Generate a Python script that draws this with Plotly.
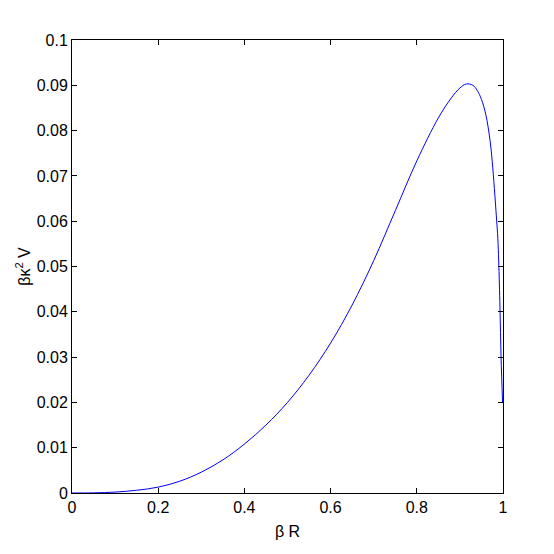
import plotly.graph_objects as go

# βR と βκ²V
beta_r = [0, 0.05, 0.1, 0.15, 0.2, 0.25, 0.3, 0.35, 0.4, 0.45, 0.5, 0.55,
          0.6, 0.65, 0.7, 0.75, 0.8, 0.85, 0.88, 0.9, 0.915, 0.93, 0.94,
          0.95, 0.96, 0.97, 0.975, 0.98, 0.985, 0.988, 0.99, 0.993, 0.9955,
          0.999]
beta_k2_v = [0, 0.00003, 0.0002, 0.0006, 0.0013, 0.0026, 0.0046, 0.0073,
             0.0108, 0.0150, 0.0200, 0.0260, 0.0331, 0.0415, 0.0513, 0.0623,
             0.0733, 0.0828, 0.0872, 0.0894, 0.0903, 0.0900, 0.0889, 0.0869,
             0.0836, 0.0778, 0.0732, 0.0672, 0.0605, 0.0562, 0.0512, 0.0410,
             0.0300, 0.0200]

x_ticks = [0, 0.2, 0.4, 0.6, 0.8, 1]
x_tick_text = ["0", "0.2", "0.4", "0.6", "0.8", "1"]
y_ticks = [0, 0.01, 0.02, 0.03, 0.04, 0.05, 0.06, 0.07, 0.08, 0.09, 0.1]
y_tick_text = ["0", "0.01", "0.02", "0.03", "0.04", "0.05", "0.06",
               "0.07", "0.08", "0.09", "0.1"]

FONT = "Liberation Sans Narrow, Liberation Sans, Arial, sans-serif"

fig = go.Figure()
fig.add_trace(
    go.Scatter(
        x=beta_r,
        y=beta_k2_v,
        mode="lines",
        line=dict(color="#0000ff", width=1, shape="spline", smoothing=1.0),
        showlegend=False,
    )
)

axis_common = dict(
    showline=True,
    linecolor="black",
    linewidth=1,
    mirror="ticks",
    ticks="inside",
    ticklen=5,
    tickcolor="black",
    showgrid=False,
    zeroline=False,
    tickfont=dict(family=FONT, size=16, color="black"),
)

fig.update_xaxes(
    range=[0, 1],
    tickvals=x_ticks,
    ticktext=x_tick_text,
    title=dict(text="β R", font=dict(family=FONT, size=16, color="black"), standoff=10),
    **axis_common,
)
fig.update_yaxes(
    range=[0, 0.1],
    tickvals=y_ticks,
    ticktext=y_tick_text,
    title=dict(text="βκ<sup>2</sup> V", font=dict(family=FONT, size=16, color="black"), standoff=2),
    **axis_common,
)

# ページ本体に 8px の余白が付くので、その分だけ余白を差し引く
fig.update_layout(
    width=554,
    height=554,
    margin=dict(l=64, r=59, t=32, b=69),
    paper_bgcolor="white",
    plot_bgcolor="white",
)

fig.write_html("out.html")
